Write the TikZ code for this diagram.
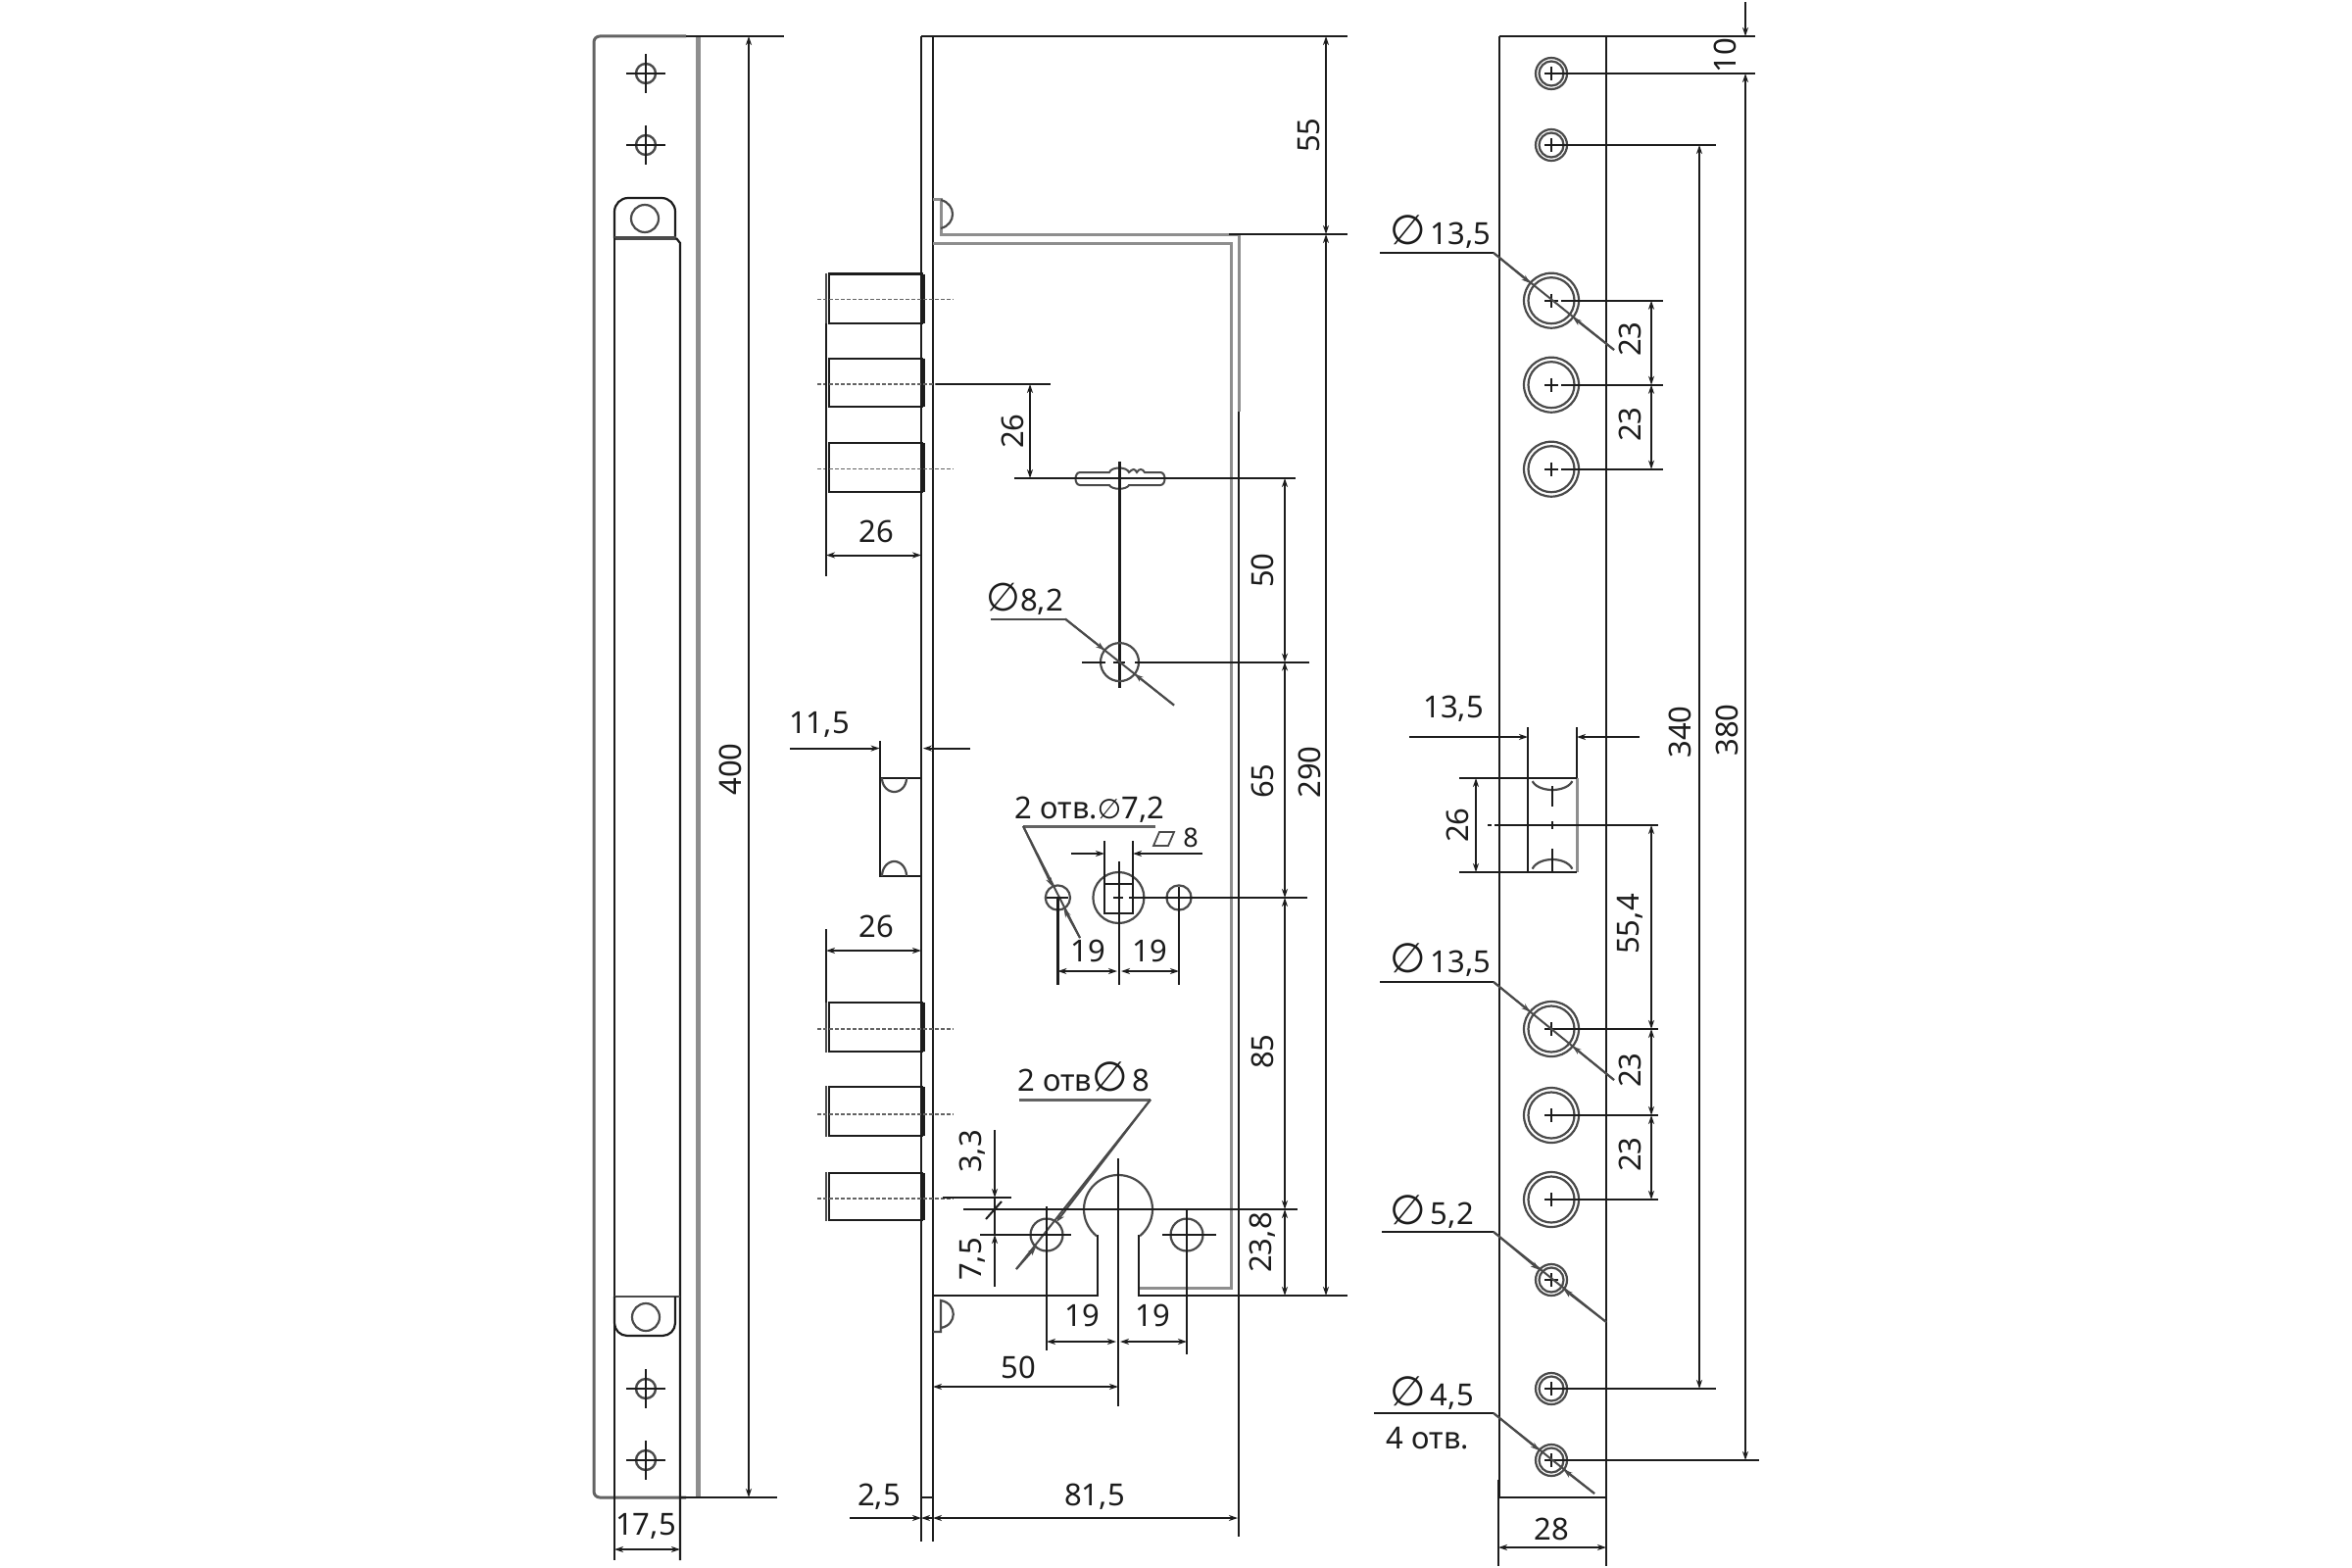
\documentclass[tikz,border=0pt]{standalone}
\usepackage{fontspec}
\setmainfont{Noto Sans}
\newfontfamily\symfont{DejaVu Sans}
\usetikzlibrary{arrows.meta,calc}
\definecolor{ink}{HTML}{1C1C1C}
\definecolor{greyline}{HTML}{8E8E8E}
\definecolor{midline}{HTML}{4A4A4A}
\newcommand{\dia}[1][36]{{\symfont\fontsize{#1}{#1}\selectfont ∅}}
% crosshair hole on the left strap
\newcommand{\xhair}[2]{%
  \draw[midline,line width=2.4pt] (#1,#2) circle (10);
  \draw[ink,line width=1.8pt] (#1-20,#2)--(#1+20,#2) (#1,#2-20)--(#1,#2+20);}
% double ring hole
\newcommand{\ring}[4]{%
  \draw[midline,line width=2.2pt] (#1,#2) circle (#3);
  \draw[midline,line width=2.2pt] (#1,#2) circle (#4);
  \draw[ink,line width=1.6pt] (#1-7,#2)--(#1+7,#2) (#1,#2-7)--(#1,#2+7);}
% leader through a circle: start, centre, radius, end
\newcommand{\leaderthru}[4]{%
  \draw[leader] (#1)--(#4);
  \draw[leader,->] (#1)--($(#2)!#3pt!(#1)$);
  \draw[leader,->] (#4)--($(#2)!#3pt!(#4)$);}
\tikzset{
  >={Stealth[length=9pt,width=6pt]},
  line/.style={ink,line width=2.2pt},
  dimline/.style={ink,line width=2pt},
  leader/.style={midline,line width=2pt},
  greyedge/.style={greyline,line width=3pt},
  centerdash/.style={greyline!70!black,line width=1.8pt,dash pattern=on 4pt off 2pt},
  lbl/.style={font=\fontsize{31}{31}\selectfont,text=ink,inner sep=0pt},
  vlbl/.style={lbl,rotate=90},
  smalllbl/.style={font=\fontsize{27}{27}\selectfont,text=ink,inner sep=0pt},
}
\begin{document}
\begin{tikzpicture}[x=1pt,y=-1pt]
\useasboundingbox (0,0) rectangle (2400,1600);
\fill[white] (0,0) rectangle (2400,1600);

% ---------- left strap ----------
\draw[greyline!70!black,line width=3pt,rounded corners=6pt] (700,37)--(606,37)--(606,1528)--(700,1528);
\draw[greyline,line width=5pt] (712,37)--(712,1528);
\draw[line] (700,37)--(800,37);
\draw[line] (694,1528)--(793,1528);
\draw[dimline,<->] (764,37)--(764,1528);
\node[vlbl] (t400) at (745,785) {400};
\xhair{659}{75}\xhair{659}{148}\xhair{659}{1417}\xhair{659}{1490}
\draw[line,rounded corners=14pt] (627,243)--(627,202)--(689,202)--(689,243);
\draw[midline,line width=3.6pt] (627,243)--(690,243);
\draw[line] (690,243)--(694,248)--(694,1592);
\draw[line] (627,243)--(627,1592);
\draw[line,midline] (627,1323)--(694,1323);
\draw[line,rounded corners=13pt] (689,1323)--(689,1363)--(627,1363)--(627,1323);
\draw[line,midline] (658,223) circle (14);
\draw[line,midline] (659,1344) circle (14);
\draw[dimline,<->] (627,1581)--(694,1581);
\node[lbl] (t175) at (659,1557) {17,5};

% ---------- lock case ----------
\draw[line] (940,37)--(940,1573);
\draw[line] (952,37)--(952,1573);
\draw[line] (940,37)--(1375,37);
\draw[line] (940,1528)--(952,1528);
% case outline
\draw[greyedge] (952,203)--(960,203)--(960,239)--(1264,239)--(1264,420);
\draw[line] (1264,420)--(1264,1568);
\draw[line] (1254,239)--(1375,239);
\draw[greyedge] (952,248)--(1256,248)--(1256,1314)--(1162,1314);
\draw[line] (952,1322)--(1120,1322)--(1120,1260);
\draw[line] (1162,1260)--(1162,1322)--(1264,1322)--(1375,1322);
\draw[line,midline] (960,204) .. controls (976,208) and (976,229) .. (960,233);
\draw[line,midline] (952,1359)--(960,1359)--(960,1327) .. controls (977,1330) and (977,1352) .. (960,1355);
% keyhole
\draw[line,midline] plot[domain=129:411,samples=50] ({1141+35*cos(\x)},{1234+35*sin(\x)});
% bolts
\foreach \a/\b/\c in {279.5/330/305.5,365.6/415/392,452/502/478.5,1023/1073/1050,1109/1159/1136.7,1197/1245/1222.7}{
  \draw[line] (942,\a)--(846,\a)--(846,\b)--(942,\b);
  \draw[midline,line width=1.6pt] (843,\a-1)--(843,\b+1);
  \draw[ink,line width=3.4pt] (942,\a)--(942,\b);
  \draw[centerdash] (834,\c)--(973,\c);
}
% latch edge
\draw[line] (898,756)--(898,894)--(940,894);
\draw[line] (898,794)--(940,794);
\draw[line,midline] plot[domain=0:180,samples=24] ({912.5+12.5*cos(\x)},{794+14*sin(\x)});
\draw[line,midline] plot[domain=180:360,samples=24] ({912.5+12.5*cos(\x)},{894+15*sin(\x)});
% key slot
\draw[midline,line width=2pt] (1102,482) -- (1132,482) .. controls (1134,476) and (1150,476) .. (1152,482) .. controls (1156,478) and (1158,478) .. (1160,482) .. controls (1162,478) and (1166,478) .. (1168,482) -- (1184,482) .. controls (1190,482) and (1190,495) .. (1184,495) -- (1152,495) .. controls (1150,500) and (1134,500) .. (1132,495) -- (1102,495) .. controls (1096,495) and (1096,482) .. (1102,482);
\draw[line] (1142.5,471)--(1142.5,702);
\draw[line] (1035,488)--(1322,488);
\draw[line] (955,392)--(1072,392);
\draw[dimline,<->] (1051,392)--(1051,488);
\node[vlbl] (t26a) at (1033,440) {26};
% 26 upper
\draw[line] (843,330)--(843,588);
\draw[dimline,<->] (843,566.5)--(940,566.5);
\node[lbl] (t26b) at (894,542) {26};
% o 8,2
\draw[line,midline] (1142.5,675.6) circle (19.5);
\draw[line] (1104,675.6)--(1128,675.6) (1136,675.6)--(1148,675.6) (1158,675.6)--(1336,675.6);
\draw[midline,line width=2pt] (1010.5,631.6)--(1087,631.6);
\coordinate (d1s) at (1087,631.6); \coordinate (d1c) at (1142.5,675.6); \coordinate (d1e) at (1198,719.6);
\leaderthru{d1s}{d1c}{19.5}{d1e}
\node[lbl,anchor=west] (t82) at (1006,611) {\dia[40]8,2};
% 11,5
\draw[dimline,->] (806,763.6)--(897.6,763.6);
\draw[dimline,->] (990,763.6)--(942,763.6);
\node[lbl] (t115) at (836,739) {11,5};
% 2 otv 7,2
\node[lbl] (t72) at (1112,826) {2 отв.\dia[28]7,2};
\draw[greyline!70!black,line width=3pt] (1044,843)--(1179,843);
\coordinate (d2s) at (1044,843); \coordinate (d2c) at (1079.4,916); \coordinate (d2e) at (1102,957);
\leaderthru{d2s}{d2c}{12.6}{d2e}
\draw[line,midline] (1079.4,916) circle (12.6);
\draw[line,midline] (1203,916) circle (12.6);
\draw[line,midline] (1141.4,916) circle (26);
\draw[line] (1127,858)--(1127,932)--(1156,932)--(1156,858);
\draw[line] (1127,902)--(1156,902);
\draw[line] (1142,879)--(1142,1005);
\draw[line] (1136,916)--(1146,916) (1152,916)--(1334,916);
\draw[line] (1068,916)--(1090,916);
\draw[line] (1079.4,916)--(1079.4,1005);
\draw[line] (1203,905)--(1203,1005);
\draw[dimline,->] (1093,871)--(1127,871);
\draw[dimline,->] (1227,871)--(1156,871);
\draw[midline,line width=1.8pt] (1177,863)--(1183,849)--(1198,849)--(1192,863)--cycle;
\node[smalllbl] (t8) at (1215,855) {8};
\draw[dimline,<->] (1079.4,991)--(1140,991);
\draw[dimline,<->] (1144,991)--(1203,991);
\node[lbl] (t19a) at (1110,970) {19};
\node[lbl] (t19b) at (1173,970) {19};
% 26 lower
\draw[line] (843,948)--(843,1023);
\draw[dimline,<->] (843,970)--(940,970);
\node[lbl] (t26c) at (894,945) {26};
% 2 otv 8
\node[lbl] (t80) at (1106,1099) {2 отв\dia[42]\,8};
\draw[greyline!70!black,line width=3pt] (1040,1122)--(1174,1122);
\coordinate (d3s) at (1174,1122); \coordinate (d3c) at (1068,1260); \coordinate (d3e) at (1037,1295);
\leaderthru{d3s}{d3c}{16.5}{d3e}
\draw[line,midline] (1068,1260) circle (16.5);
\draw[line,midline] (1211,1260) circle (16.5);
\draw[line] (1068,1231)--(1068,1378);
\draw[line] (1211,1233)--(1211,1382);
\draw[line] (1000,1260)--(1093,1260);
\draw[line] (1186,1260)--(1241,1260);
\draw[line] (1141,1182)--(1141,1435);
\draw[line] (983,1234)--(1324,1234);
\draw[line] (962,1222)--(1032,1222);
% 3,3 / 7,5
\draw[dimline,->] (1015,1153)--(1015,1222);
\draw[dimline] (1015,1222)--(1015,1260);
\draw[dimline,->] (1015,1313)--(1015,1260);
\draw[dimline] (1006,1244)--(1022,1226);
\node[vlbl] (t33) at (992,1175) {3,3};
\node[vlbl] (t75) at (992,1285) {7,5};
% bottom dims
\draw[dimline,<->] (1068,1369)--(1139,1369);
\draw[dimline,<->] (1143,1369)--(1211,1369);
\node[lbl] (t19c) at (1104,1342) {19};
\node[lbl] (t19d) at (1176,1342) {19};
\draw[dimline,<->] (952,1415)--(1141,1415);
\node[lbl] (t50a) at (1039,1395) {50};
\draw[dimline,->] (867,1549)--(940,1549);
\draw[dimline,<-] (940,1549)--(952,1549);
\draw[dimline,<->] (952,1549)--(1263,1549);
\node[lbl] (t25) at (897,1527) {2,5};
\node[lbl] (t815) at (1117,1527) {81,5};
% vertical chains
\draw[dimline,<->] (1353,37)--(1353,239);
\draw[dimline,<->] (1353,239)--(1353,1322);
\node[vlbl] (t55) at (1336,138) {55};
\node[vlbl] (t290) at (1336,788) {290};
\draw[dimline,<->] (1311,488)--(1311,675.6);
\draw[dimline,<->] (1311,675.6)--(1311,916);
\draw[dimline,<->] (1311,916)--(1311,1234);
\draw[dimline,<->] (1311,1234)--(1311,1322);
\node[vlbl] (t50b) at (1288,582) {50};
\node[vlbl] (t65) at (1288,797) {65};
\node[vlbl] (t85) at (1288,1073) {85};
\node[vlbl] (t238) at (1288,1268) {23,8};

% ---------- face plate ----------
\draw[line] (1530,37)--(1530,1528);
\draw[line] (1639,37)--(1639,1598);
\draw[line] (1530,37)--(1791,37);
\draw[line] (1529,1528)--(1639,1528);
\draw[line] (1529,1510)--(1529,1598);
\foreach \y in {75,148,1306,1417,1490}{\ring{1583}{\y}{16}{12.5}}
\foreach \y in {306.7,392.7,478.7,1050,1138,1224}{\ring{1583}{\y}{28}{23.5}}
\draw[line] (1583,75)--(1791,75);
\draw[line] (1583,148)--(1751,148);
\draw[line] (1583,1417)--(1751,1417);
\draw[line] (1583,1490)--(1795,1490);
\foreach \y in {306.7,392.7,478.7}{\draw[line] (1593,\y)--(1697,\y);}
\foreach \y in {1050,1138,1224}{\draw[line] (1583,\y)--(1692,\y);}
\draw[dimline,<->] (1685,306.7)--(1685,392.7);
\draw[dimline,<->] (1685,392.7)--(1685,478.7);
\draw[dimline,<->] (1685,842)--(1685,1050);
\draw[dimline,<->] (1685,1050)--(1685,1138);
\draw[dimline,<->] (1685,1138)--(1685,1224);
\node[vlbl] (t23a) at (1663,346) {23};
\node[vlbl] (t23b) at (1663,433) {23};
\node[vlbl] (t554) at (1663,943) {55,4};
\node[vlbl] (t23c) at (1663,1092) {23};
\node[vlbl] (t23d) at (1663,1178) {23};
% overall dims
\draw[dimline,->] (1781,2)--(1781,37);
\draw[dimline,<->] (1781,75)--(1781,1490);
\draw[dimline,<->] (1734,148)--(1734,1417);
\node[vlbl] (t10) at (1760,57) {10};
\node[vlbl] (t340) at (1714,747) {340};
\node[vlbl] (t380) at (1762,745) {380};
% latch opening
\draw[line] (1559,742)--(1559,890);
\draw[line] (1609,742)--(1609,794);
\draw[greyedge] (1609,794)--(1609,890);
\draw[line] (1489,794)--(1609,794);
\draw[line] (1489,890)--(1609,890);
\draw[dimline,->] (1438,752)--(1559,752);
\draw[dimline,->] (1673,752)--(1609,752);
\node[lbl] (t135a) at (1483,723) {13,5};
\draw[dimline,<->] (1506,794)--(1506,890);
\node[vlbl] (t26d) at (1487,842) {26};
\draw[line,midline] plot[domain=15:165,samples=24] ({1584+21*cos(\x)},{794+12*sin(\x)});
\draw[line,midline] plot[domain=195:345,samples=24] ({1584+21*cos(\x)},{890+13*sin(\x)});
\draw[line] (1584,802)--(1584,823) (1584,838)--(1584,846) (1584,866)--(1584,890);
\draw[line] (1518,842)--(1522,842) (1525,842)--(1692,842);
% leaders
\draw[line] (1408,258)--(1524,258);
\coordinate (e1s) at (1524,258); \coordinate (e1c) at (1583,306.7); \coordinate (e1e) at (1647,357);
\leaderthru{e1s}{e1c}{28}{e1e}
\node[lbl,anchor=west] (t135b) at (1418,237) {\dia[42]\,13,5};
\draw[line] (1408,1002)--(1524,1002);
\coordinate (e2s) at (1524,1002); \coordinate (e2c) at (1583,1050); \coordinate (e2e) at (1647,1102);
\leaderthru{e2s}{e2c}{28}{e2e}
\node[lbl,anchor=west] (t135c) at (1418,980) {\dia[42]\,13,5};
\draw[line] (1410,1257)--(1524,1257);
\coordinate (e3s) at (1524,1257); \coordinate (e3c) at (1583,1306); \coordinate (e3e) at (1639,1349);
\leaderthru{e3s}{e3c}{16}{e3e}
\node[lbl,anchor=west] (t52) at (1418,1237) {\dia[42]\,5,2};
\draw[line] (1402,1442)--(1524,1442);
\coordinate (e4s) at (1524,1442); \coordinate (e4c) at (1583,1490); \coordinate (e4e) at (1627,1524);
\leaderthru{e4s}{e4c}{16}{e4e}
\node[lbl,anchor=west] (t45) at (1418,1422) {\dia[42]\,4,5};
\node[lbl] (t4otv) at (1457,1468) {4 отв.};
\draw[dimline,<->] (1529,1579)--(1639,1579);
\node[lbl] (t28) at (1583,1560) {28};
\end{tikzpicture}
\end{document}
